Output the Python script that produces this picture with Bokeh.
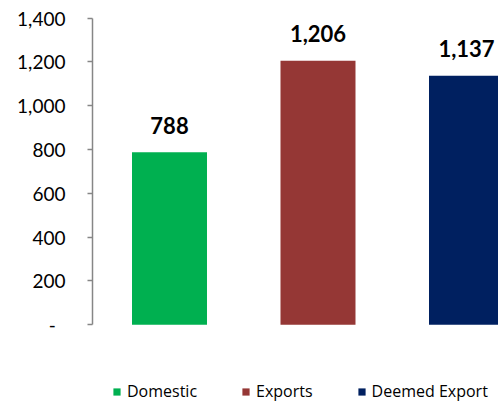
from bokeh.plotting import figure
from bokeh.models import (ColumnDataSource, Range1d, FixedTicker, Legend, LegendItem)
from bokeh.core.properties import value
from bokeh.embed import file_html
from bokeh.resources import INLINE

categories = ["Domestic", "Exports", "Deemed Export"]
values = [788, 1206, 1137]
colors = ["#00B050", "#953735", "#002060"]
tick_values = [0, 200, 400, 600, 800, 1000, 1200, 1400]
tick_labels = ["-\u00a0\u00a0", "200", "400", "600", "800", "1,000", "1,200", "1,400"]

xs = list(range(len(categories)))
labels = [f"{v:,}" for v in values]

source = ColumnDataSource(dict(x=xs, top=values, color=colors, cat=categories, label=labels))

p = figure(width=498, height=405, output_backend="svg", toolbar_location=None,
           x_range=Range1d(-0.5185, 2.2155), y_range=Range1d(-368.5, 1480.8),
           x_axis_location=None, min_border_left=92, min_border_right=0,
           min_border_top=0, min_border_bottom=0)
p.outline_line_color = None
p.xgrid.visible = False
p.ygrid.visible = False
p.background_fill_color = "white"
p.border_fill_color = "white"

renderers = []
for i in xs:
    r = p.vbar(x=[xs[i]], top=[values[i]], width=0.505, bottom=0,
               fill_color=colors[i], line_color=None)
    renderers.append(r)

p.text(x="x", y="top", text="label", source=source, text_align="center",
       text_baseline="alphabetic", y_offset=-27, text_font=value("Lato"),
       text_font_style="bold", text_font_size="22px", text_color="black")

ax = p.yaxis[0]
ax.ticker = FixedTicker(ticks=tick_values)
ax.major_label_overrides = {t: l for t, l in zip(tick_values, tick_labels)}
ax.bounds = (0, 1400)
ax.axis_line_color = "#868686"
ax.axis_line_width = 1.5
ax.major_tick_line_color = "#868686"
ax.major_tick_line_width = 1.5
ax.major_tick_out = 5
ax.major_tick_in = 0
ax.minor_tick_line_color = None
ax.major_label_text_font = "Lato"
ax.major_label_text_font_size = "19px"
ax.major_label_text_color = "black"
ax.major_label_standoff = 22

items = [LegendItem(label=categories[i], renderers=[renderers[i]]) for i in xs]
legend = Legend(items=items, orientation="horizontal", location=(20, 3),
                glyph_width=9, glyph_height=9, label_standoff=6, spacing=44,
                padding=0, margin=0, border_line_color=None,
                background_fill_alpha=0, label_text_font="Open Sans",
                label_text_font_size="16px", label_text_color="black",
                label_height=12)
p.add_layout(legend)

open("out.html", "w").write(file_html(p, INLINE))
